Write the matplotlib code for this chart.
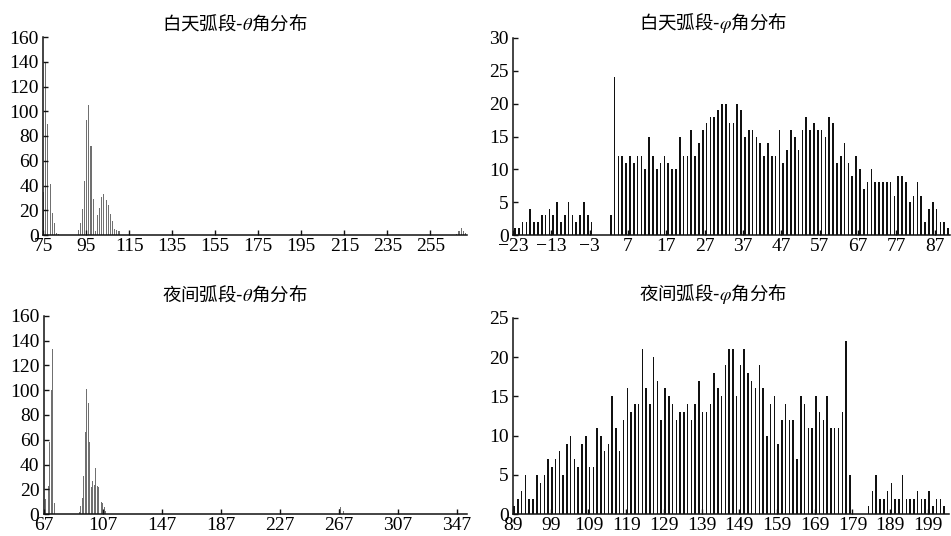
import matplotlib
matplotlib.use("Agg")
import matplotlib.pyplot as plt
import numpy as np

plt.rcParams['mathtext.fontset'] = 'stix'

# ---------------- data ----------------
# Day arc, theta distribution (bin start -> count)
theta_day_bins = [75, 76, 77, 78, 79, 80, 81, 82,
                  91, 92, 93, 94, 95, 96, 97, 98, 99, 100, 101, 102, 103, 104,
                  105, 106, 107, 108, 109, 110,
                  267, 268, 269, 270, 271]
theta_day_counts = [35, 140, 90, 41, 18, 10, 2, 1,
                    4, 10, 21, 44, 93, 105, 72, 29, 3, 16, 22, 31, 33, 28,
                    24, 17, 11, 5, 4, 3,
                    1, 3, 6, 3, 2]
theta_day_xticks = [75, 95, 115, 135, 155, 175, 195, 215, 235, 255]
theta_day_yticks = [0, 20, 40, 60, 80, 100, 120, 140, 160]

# Day arc, phi distribution
phi_day_bins = list(range(-23, 91))
phi_day_counts = [1, 1, 2, 2, 4, 2, 2, 3, 3, 4, 3, 5, 2, 3, 5, 3, 2, 3, 5, 3, 2,   # -23..-3
                  0, 0, 0, 0,                                                   # -2..1
                  3, 24, 12, 12, 11, 12, 11, 12, 12, 10, 15, 12, 10, 11, 12,    # 2..16
                  11, 10, 10, 15, 12, 12, 16, 12, 14, 16, 17, 18, 18, 19,       # 17..30
                  20, 20, 17, 17, 20, 19, 15, 16, 16, 15, 14, 12, 14, 12, 12,   # 31..45
                  16, 11, 13, 16, 15, 13, 16, 18, 16, 17, 16, 16, 15, 18, 17,   # 46..60
                  11, 12, 14, 11, 9, 12, 10, 7, 8, 10, 8, 8, 8, 8, 8,           # 61..75
                  6, 9, 9, 8, 5, 6, 8, 6, 2, 4, 5, 4, 2, 2, 1]                  # 76..90
phi_day_xticks = [-23, -13, -3, 7, 17, 27, 37, 47, 57, 67, 77, 87]
phi_day_yticks = [0, 5, 10, 15, 20, 25, 30]

# Night arc, theta distribution
theta_night_bins = [67, 68, 70, 71, 72, 73, 74,
                    91, 92, 93, 94, 95, 96, 97, 98, 99, 100, 101, 102, 103,
                    104, 105, 106, 107, 108, 109,
                    267, 268, 269, 270]
theta_night_counts = [5, 12, 23, 58, 100, 133, 9,
                      2, 7, 13, 31, 66, 101, 90, 58, 22, 27, 24, 37, 23,
                      22, 13, 10, 9, 6, 3,
                      4, 6, 5, 3]
theta_night_xticks = [67, 107, 147, 187, 227, 267, 307, 347]
theta_night_yticks = [0, 20, 40, 60, 80, 100, 120, 140, 160]

# Night arc, phi distribution
phi_night_bins = list(range(89, 204))
phi_night_counts = [1, 2, 3, 5, 2, 2, 5, 4, 5, 7, 6, 7, 8, 5, 9,          # 89..103
                    10, 7, 6, 9, 10, 6, 6, 11, 10, 8, 9, 15, 11, 8, 12,    # 104..118
                    16, 13, 14, 14, 21, 16, 14, 20, 17, 12, 16, 15, 14,    # 119..131
                    12, 13, 13, 14, 12, 14, 17, 13, 13, 14, 18, 16, 15,    # 132..144
                    19, 21, 21, 15, 19, 21, 18, 17, 16, 19, 16, 10, 14,    # 145..157
                    15, 9, 12, 14, 12, 12, 7, 15, 14, 11, 11, 15, 13,      # 158..170
                    12, 15, 11, 11, 11, 13, 22, 5,                         # 171..178
                    0, 0, 0, 0,                                            # 179..182
                    1, 3, 5, 2, 2, 3, 4, 2, 2, 5, 2, 2, 2, 3, 2, 2, 3,     # 183..199
                    1, 2, 2, 1]                                            # 200..203
phi_night_xticks = [89, 99, 109, 119, 129, 139, 149, 159, 169, 179, 189, 199]
phi_night_yticks = [0, 5, 10, 15, 20, 25]

titles = ['白天弧段-$\\theta$角分布', '白天弧段-$\\varphi$角分布',
          '夜间弧段-$\\theta$角分布', '夜间弧段-$\\varphi$角分布']

# ---------------- figure ----------------
W, H = 951, 536
fig = plt.figure(figsize=(W / 100, H / 100), dpi=100)


def px_axes(x0, x1, y_top, y_bot):
    return fig.add_axes([x0 / W, 1 - y_bot / H, (x1 - x0) / W, (y_bot - y_top) / H])


tick_font = dict(family='Liberation Serif', size=14)


def style(ax, xlim, ylim, xticks, yticks):
    ax.set_xlim(*xlim)
    ax.set_ylim(*ylim)
    ax.set_xticks(xticks)
    ax.set_yticks(yticks)
    ax.set_xticklabels([str(t).replace('-', '\u2212') for t in xticks], fontdict=tick_font)
    ax.set_yticklabels([str(t) for t in yticks], fontdict=tick_font)
    for s in ['top', 'right']:
        ax.spines[s].set_visible(False)
    for s in ['left', 'bottom']:
        ax.spines[s].set_linewidth(1.1)
        ax.spines[s].set_color('#111111')
    ax.tick_params(direction='in', length=3.5, width=1.0, color='#111111')
    ax.tick_params(axis='y', pad=3)
    ax.tick_params(axis='x', pad=2.2)


# top-left
ax1 = px_axes(43, 467, 37, 235)
ax1.bar(np.array(theta_day_bins) + 0.3, theta_day_counts, width=0.5,
        color='#707070', linewidth=0)
style(ax1, (75, 272), (0, 160), theta_day_xticks, theta_day_yticks)

# top-right
ax2 = px_axes(513, 950, 38, 235)
ax2.bar(np.array(phi_day_bins) + 0.5, phi_day_counts, width=0.4,
        color='#111111', linewidth=0)
style(ax2, (-23, 91), (0, 30), phi_day_xticks, phi_day_yticks)

# bottom-left
ax3 = px_axes(43.5, 467, 315.7, 514.3)
ax3.bar(np.array(theta_night_bins) + 0.3, theta_night_counts, width=0.65,
        color='#707070', linewidth=0)
style(ax3, (67, 354), (0, 160), theta_night_xticks, theta_night_yticks)

# bottom-right
ax4 = px_axes(513, 949, 317.7, 514.3)
ax4.bar(np.array(phi_night_bins) + 0.3, phi_night_counts, width=0.4,
        color='#111111', linewidth=0)
style(ax4, (89, 204.6), (0, 25), phi_night_xticks, phi_night_yticks)

title_pos = [(234.5, 23), (713, 23), (235, 294.5), (713, 294.5)]
for t, (x, y) in zip(titles, title_pos):
    fig.text(x / W, 1 - y / H, t, ha='center', va='center', fontsize=13.3,
             family=['Noto Sans CJK SC', 'DejaVu Sans'])

fig.savefig('out.png', dpi=100)
